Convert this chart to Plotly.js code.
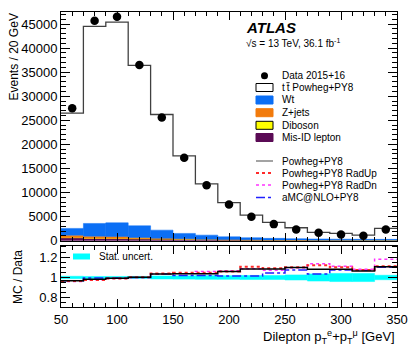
<!DOCTYPE html>
<html>
<head>
<meta charset="utf-8">
<script src="https://cdn.plot.ly/plotly-3.0.1.min.js"></script>
<style>
  html, body { margin: 0; padding: 0; background: #fff; }
  #chart { width: 414px; height: 353px; }
</style>
</head>
<body>
<div id="chart"></div>
<script>
// ── Data ───────────────────────────────────────────────────────────────────
const binEdges   = [50, 70, 90, 110, 130, 150, 170, 190, 210, 230, 250, 270, 290, 310, 330, 350];
const binCentres = [60, 80, 100, 120, 140, 160, 180, 200, 220, 240, 260, 280, 300, 320, 340];

const dataEvents = [27500, 45700, 46500, 36500, 25600, 17200, 11500, 7500, 4950, 3430, 2330, 1620, 1290, 1000, 2330];
const mcTotal    = [26500, 44500, 45400, 36400, 26200, 17600, 11800, 7900, 5300, 3780, 2670, 1700, 1500, 1140, 2530];

const misidEvents   = [600, 450, 420, 380, 320, 250, 200, 160, 130, 110, 90, 75, 60, 50, 50];
const dibosonEvents = [40, 50, 50, 40, 35, 30, 25, 20, 15, 12, 10, 8, 7, 6, 6];
const zjetsEvents   = [500, 430, 400, 240, 150, 90, 60, 40, 30, 22, 18, 14, 12, 10, 10];
const wtEvents      = [1400, 2640, 2830, 2420, 1675, 1130, 855, 570, 425, 326, 282, 243, 221, 204, 194];

const statUncert   = [0.012, 0.01, 0.01, 0.01, 0.015, 0.016, 0.018, 0.018, 0.02, 0.02, 0.025, 0.035, 0.04, 0.04, 0.022];
const ratioNominal = [0.968, 0.982, 0.993, 1.003, 1.035, 1.037, 1.037, 1.06, 1.083, 1.083, 1.097, 1.08, 1.08, 1.063, 1.105];
const ratioRadUp   = [0.965, 0.975, 0.99, 1.003, 1.04, 1.047, 1.047, 1.06, 1.105, 1.09, 1.1, 1.12, 1.10, 1.073, 1.11];
const ratioRadDn   = [0.96, 0.975, 0.99, 1.0, 1.035, 1.04, 1.06, 1.065, 1.085, 1.07, 1.095, 1.135, 1.11, 1.08, 1.18];
const ratioAmc     = [0.968, 0.995, 0.995, 1.0, 1.035, 1.02, 1.02, 1.015, 1.015, 1.045, 1.073, 1.035, 1.073, 1.07, 1.10];

// ── Style ──────────────────────────────────────────────────────────────────
const FONT = 'Liberation Sans, Arial, Helvetica, sans-serif';
const COL = {
  wt: '#0b6ff5', zjets: '#f27b0c', diboson: '#ffff00', misid: '#5a0a55',
  stat: '#00ffff', nominal: '#000000', radUp: '#ff2a2a', radDn: '#ff33ff', amc: '#2020ff',
};

// histogram helpers
const stepY = vals => [...vals, vals[vals.length - 1]];
const cumsum = (...arrs) => arrs[0].map((_, i) => arrs.reduce((s, a) => s + a[i], 0));

function stackedBar(name, vals, base, color) {
  return {
    type: 'bar', name, x: binCentres, y: vals, base, width: 20,
    marker: { color, line: { color, width: 0.5 } },
    xaxis: 'x', yaxis: 'y', showlegend: false, hoverinfo: 'skip',
  };
}

function ratioLine(vals, color, dash, width) {
  return {
    type: 'scatter', mode: 'lines', x: binEdges, y: stepY(vals),
    line: { shape: 'hv', color, dash, width },
    xaxis: 'x2', yaxis: 'y2', showlegend: false, hoverinfo: 'skip',
  };
}

const zeros = binCentres.map(() => 0);
const traces = [
  stackedBar('Mis-ID lepton', misidEvents, zeros, COL.misid),
  stackedBar('Diboson', dibosonEvents, cumsum(misidEvents), COL.diboson),
  stackedBar('Z+jets', zjetsEvents, cumsum(misidEvents, dibosonEvents), COL.zjets),
  stackedBar('Wt', wtEvents, cumsum(misidEvents, dibosonEvents, zjetsEvents), COL.wt),
  {
    type: 'scatter', mode: 'lines', x: binEdges, y: stepY(mcTotal),
    line: { shape: 'hv', color: '#404040', width: 1.3 },
    xaxis: 'x', yaxis: 'y', showlegend: false, hoverinfo: 'skip',
  },
  {
    type: 'scatter', mode: 'markers', x: binCentres, y: dataEvents,
    marker: { color: '#000', size: 8.5 },
    xaxis: 'x', yaxis: 'y', showlegend: false, hoverinfo: 'skip',
  },
  {
    type: 'bar', x: binCentres, y: statUncert.map(e => 2 * e),
    base: statUncert.map(e => 1 - e), width: 20,
    marker: { color: COL.stat, line: { color: COL.stat, width: 0.5 } },
    xaxis: 'x2', yaxis: 'y2', showlegend: false, hoverinfo: 'skip',
  },
  ratioLine(ratioAmc, COL.amc, 'dashdot', 1.5),
  ratioLine(ratioRadDn, COL.radDn, 'dot', 1.5),
  ratioLine(ratioRadUp, COL.radUp, 'dot', 2),
  ratioLine(ratioNominal, COL.nominal, 'solid', 1.5),
];

// ── Manual ROOT-style legend (pixel positions → paper coords) ───────────────
const L = 61, R = 397, T = 12, B = 307;
const px = v => (v - L) / (R - L);
const py = v => (B - v) / (B - T);

const shapes = [], annotations = [];
const text = (x, y, t, size = 10, extra = {}) => annotations.push({
  xref: 'paper', yref: 'paper', x: px(x), y: py(y), text: t, showarrow: false,
  xanchor: 'left', yanchor: 'middle', font: { family: FONT, size, color: '#000' }, ...extra,
});
const box = (y, fill, line) => shapes.push({
  type: 'rect', xref: 'paper', yref: 'paper',
  x0: px(256), x1: px(273), y0: py(y + 4), y1: py(y - 4),
  fillcolor: fill, line: { color: line || fill, width: 1 },
});
const lineSample = (y, color, dash, width) => shapes.push({
  type: 'line', xref: 'paper', yref: 'paper',
  x0: px(256), x1: px(273), y0: py(y), y1: py(y),
  line: { color, dash, width },
});

shapes.push({
  type: 'circle', xref: 'paper', yref: 'paper',
  x0: px(261), x1: px(268), y0: py(79.2), y1: py(72.2),
  fillcolor: '#000', line: { color: '#000', width: 0 },
});
text(280, 75.7, 'Data 2015+16');
box(87.5, '#fff', '#000'); text(280, 87.5, 't\u2009t Powheg+PY8');
// bar over the second t of "tt"
shapes.push({
  type: 'line', xref: 'paper', yref: 'paper',
  x0: px(286.4), x1: px(289.6), y0: py(82.6), y1: py(82.6),
  line: { color: '#000', width: 0.8 },
});
box(100, COL.wt);         text(280, 100, 'Wt');
box(112.7, COL.zjets);    text(280, 112.7, 'Z+jets');
box(125.3, COL.diboson, '#000'); text(280, 125.3, 'Diboson');
box(137.5, COL.misid);    text(280, 137.5, 'Mis-ID lepton');
lineSample(161, '#666', 'solid', 1.2);    text(280, 161, 'Powheg+PY8');
lineSample(173, COL.radUp, 'dot', 2);     text(280, 173, 'Powheg+PY8 RadUp');
lineSample(185, COL.radDn, 'dot', 1.5);   text(280, 185, 'Powheg+PY8 RadDn');
lineSample(197.5, COL.amc, 'dashdot', 1.5); text(280, 197.5, 'aMC@NLO+PY8');

text(244, 27.5, '<b><i>ATLAS</i></b>', 15);
text(244, 43, '\u221As = 13 TeV, 36.1 fb<sup>-1</sup>', 10);

shapes.push({
  type: 'rect', xref: 'paper', yref: 'paper',
  x0: px(73), x1: px(90), y0: py(259.5), y1: py(253.5),
  fillcolor: COL.stat, line: { color: COL.stat, width: 0 },
});
text(97, 256.7, 'Stat. uncert.');

// axis titles, ROOT-style aligned to the far end of each axis
annotations.push(
  { xref: 'paper', yref: 'paper', x: px(13), y: py(12), text: 'Events / 20 GeV', textangle: -90,
    showarrow: false, xanchor: 'center', yanchor: 'top', font: { family: FONT, size: 12, color: '#000' } },
  { xref: 'paper', yref: 'paper', x: px(18), y: py(277), text: 'MC / Data', textangle: -90,
    showarrow: false, xanchor: 'center', yanchor: 'middle', font: { family: FONT, size: 12, color: '#000' } },
  { xref: 'paper', yref: 'paper', x: px(397), y: py(337), text: 'Dilepton p<sub>T</sub><sup>e</sup>+p<sub>T</sub><sup>\u03BC</sup> [GeV]',
    showarrow: false, xanchor: 'right', yanchor: 'middle', font: { family: FONT, size: 13, color: '#000' } },
);

// ── Axes ───────────────────────────────────────────────────────────────────
const frame = {
  showline: true, linecolor: '#000', linewidth: 1, mirror: 'allticks',
  showgrid: false, zeroline: false, ticks: 'inside', tickcolor: '#000',
  tickfont: { family: FONT, size: 13, color: '#000' },
};

const layout = {
  width: 414, height: 353,
  margin: { l: L, r: 414 - R, t: T, b: 353 - B },
  paper_bgcolor: '#fff', plot_bgcolor: '#fff',
  barmode: 'overlay', bargap: 0,
  showlegend: false,
  font: { family: FONT, color: '#000' },
  xaxis: {
    ...frame, matches: 'x2', anchor: 'y', range: [50, 350], dtick: 50, ticklen: 8,
    showticklabels: false,
    minor: { ticks: 'inside', dtick: 10, ticklen: 4, tickcolor: '#000' },
  },
  yaxis: {
    ...frame, domain: [0.225, 1], anchor: 'x', range: [0, 47500], dtick: 5000, ticklen: 9,
    tickformat: 'd',
    minor: { ticks: 'inside', dtick: 1000, ticklen: 5, tickcolor: '#000' },
  },
  xaxis2: {
    ...frame, anchor: 'y2', range: [50, 350], dtick: 50, ticklen: 8,
    minor: { ticks: 'inside', dtick: 10, ticklen: 4, tickcolor: '#000' },
  },
  yaxis2: {
    ...frame, domain: [0, 0.207], anchor: 'x2', range: [0.71, 1.31], dtick: 0.2, ticklen: 9,
    minor: { ticks: 'inside', dtick: 0.05, ticklen: 5, tickcolor: '#000' },
  },
  shapes, annotations,
};

Plotly.newPlot('chart', traces, layout, { displayModeBar: false, staticPlot: true });
</script>
</body>
</html>
